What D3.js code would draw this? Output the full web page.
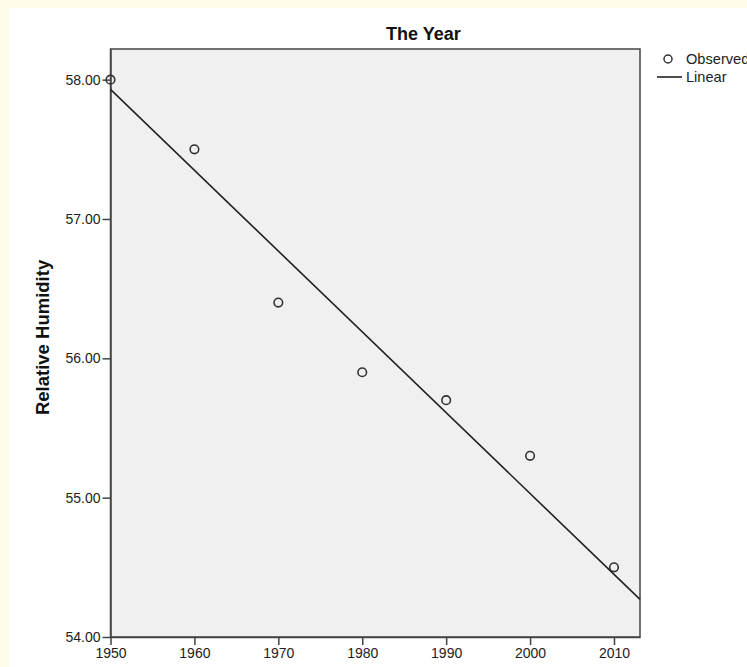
<!DOCTYPE html>
<html>
<head>
<meta charset="utf-8">
<script src="https://cdn.jsdelivr.net/npm/d3@7"></script>
<style>
  body { margin: 0; background: #fffbe8; }
  svg { display: block; font-family: "Liberation Sans", Arial, sans-serif; }
</style>
</head>
<body>
<svg width="747" height="667"></svg>
<script>
// observed values
const years = [1950, 1960, 1970, 1980, 1990, 2000, 2010];
const humidity = [58.0, 57.5, 56.4, 55.9, 55.7, 55.3, 54.5];

const fitYears = [1950, 2013.1];
const fitValues = [57.93, 54.27];

const xTicks = [1950, 1960, 1970, 1980, 1990, 2000, 2010];
const yTicks = [54, 55, 56, 57, 58];

const width = 747;
const height = 667;
const marginTop = 49;
const marginRight = 107;
const marginBottom = 30;
const marginLeft = 110.5;

const svg = d3.select("svg");

// page background
svg.append("rect")
    .attr("width", width).attr("height", height)
    .attr("fill", "#fffbe8");
svg.append("rect")
    .attr("x", 9).attr("y", 8)
    .attr("width", width - 9).attr("height", height - 8)
    .attr("fill", "#ffffff");

const x = d3.scaleLinear()
    .domain([1950, 2013.1])
    .range([marginLeft, width - marginRight]);

const y = d3.scaleLinear()
    .domain([54, 58.22])
    .range([height - marginBottom, marginTop]);

// plot area
svg.append("rect")
    .attr("x", x.range()[0]).attr("y", y.range()[1])
    .attr("width", x.range()[1] - x.range()[0])
    .attr("height", y.range()[0] - y.range()[1])
    .attr("fill", "#f0f0f0")
    .attr("stroke", "#444")
    .attr("stroke-width", 1.5);

// axes
const xAxis = svg.append("g")
    .attr("transform", `translate(0,${height - marginBottom})`)
    .call(d3.axisBottom(x).tickValues(xTicks).tickFormat(d3.format("d"))
        .tickSize(8).tickSizeOuter(0).tickPadding(3));

const yAxis = svg.append("g")
    .attr("transform", `translate(${marginLeft},0)`)
    .call(d3.axisLeft(y).tickValues(yTicks).tickFormat(d3.format(".2f"))
        .tickSize(8).tickSizeOuter(0).tickPadding(2));

[xAxis, yAxis].forEach(g => {
    g.select(".domain").attr("stroke", "#444").attr("stroke-width", 1.5);
    g.selectAll(".tick line").attr("stroke", "#444").attr("stroke-width", 1.5);
    g.selectAll(".tick text").attr("fill", "#222").attr("font-size", 14)
        .attr("font-family", "'Liberation Sans', Arial, sans-serif");
});

// fit line
svg.append("path")
    .datum(fitYears.map((d, i) => [d, fitValues[i]]))
    .attr("d", d3.line().x(d => x(d[0])).y(d => y(d[1])))
    .attr("fill", "none")
    .attr("stroke", "#222")
    .attr("stroke-width", 1.6);

// observed points
svg.append("g")
    .selectAll("circle")
    .data(years)
    .join("circle")
    .attr("cx", d => x(d))
    .attr("cy", (d, i) => y(humidity[i]))
    .attr("r", 4.3)
    .attr("fill", "none")
    .attr("stroke", "#333")
    .attr("stroke-width", 1.6);

// title
svg.append("text")
    .attr("x", 386).attr("y", 40)
    .attr("font-size", 18).attr("font-weight", "bold")
    .attr("fill", "#111")
    .text("The Year");

// y label
svg.append("text")
    .attr("transform", `translate(49,${y(56.15)}) rotate(-90)`)
    .attr("text-anchor", "middle")
    .attr("font-size", 18.5).attr("font-weight", "bold")
    .attr("fill", "#111")
    .text("Relative Humidity");

// legend
const legend = svg.append("g");
legend.append("circle")
    .attr("cx", 668).attr("cy", 59).attr("r", 4)
    .attr("fill", "none").attr("stroke", "#333").attr("stroke-width", 1.5);
legend.append("line")
    .attr("x1", 657).attr("x2", 682).attr("y1", 77).attr("y2", 77)
    .attr("stroke", "#222").attr("stroke-width", 1.6);
legend.append("text")
    .attr("x", 686).attr("y", 64)
    .attr("font-size", 14.6).attr("fill", "#222")
    .text("Observed");
legend.append("text")
    .attr("x", 686).attr("y", 82)
    .attr("font-size", 14.6).attr("fill", "#222")
    .text("Linear");
</script>
</body>
</html>
